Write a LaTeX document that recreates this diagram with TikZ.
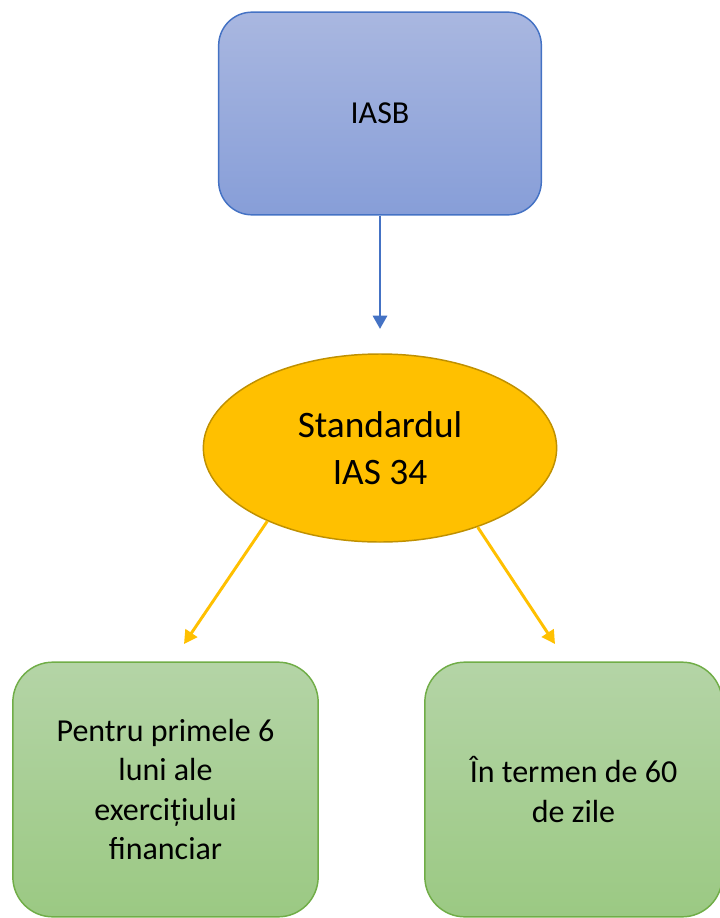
\documentclass[tikz,border=0pt]{standalone}
\usepackage{fontspec}
\setmainfont{Carlito}
\usetikzlibrary{shapes.geometric,arrows.meta}

\definecolor{iasbline}{HTML}{4472C4}
\definecolor{iasbtop}{HTML}{A9B7E0}
\definecolor{iasbbot}{HTML}{879ED8}
\definecolor{stdfill}{HTML}{FFC000}
\definecolor{stdline}{HTML}{BF9000}
\definecolor{termline}{HTML}{70AD47}
\definecolor{termtop}{HTML}{B4D4A6}
\definecolor{termbot}{HTML}{9BC983}

\begin{document}
\begin{tikzpicture}[x=0.75pt, y=-0.75pt,
    iasbbox/.style={draw=iasbline, line width=1.1pt, rounded corners=25pt,
        top color=iasbtop, bottom color=iasbbot,
        minimum width=242pt, minimum height=152pt,
        font=\fontsize{24}{29.5}\selectfont},
    stdoval/.style={ellipse, draw=stdline, line width=1.1pt, fill=stdfill,
        inner sep=0pt, minimum width=265pt, minimum height=141pt,
        align=center, font=\fontsize{28}{35}\selectfont},
    termbox/.style={draw=termline, line width=1.1pt, rounded corners=30pt,
        top color=termtop, bottom color=termbot,
        minimum height=191pt, align=center,
        font=\fontsize{24}{29.5}\selectfont},
    bluearrow/.style={draw=iasbline, line width=2.2pt, -{Triangle[length=10pt, width=10.5pt]}},
    yellowarrow/.style={draw=stdfill, line width=2.2pt, -{Triangle[length=10pt, width=10.5pt]}}
]
    \useasboundingbox (0,0) rectangle (720,918);

    % Top box
    \node[iasbbox] (iasb) at (380,113.5) {IASB};

    % Standard
    \node[stdoval] (std) at (380,448) {Standardul\\IAS 34};

    % Bottom boxes
    \node[termbox, minimum width=229pt] (half) at (165.5,789.5)
        {Pentru primele 6\\luni ale\\exercițiului\\financiar};
    \node[termbox, minimum width=223pt] (days) at (573.5,789.5)
        {În termen de 60\\de zile};

    % Free arrow ends
    \coordinate (tipstd) at (380,329);
    \coordinate (tiphalf) at (184,644);
    \coordinate (tipdays) at (555,644);

    % Arrows
    \draw[bluearrow] (iasb) -- (tipstd);
    \draw[yellowarrow] (std.-147) -- (tiphalf);
    \draw[yellowarrow] (std.-39) -- (tipdays);
\end{tikzpicture}
\end{document}
